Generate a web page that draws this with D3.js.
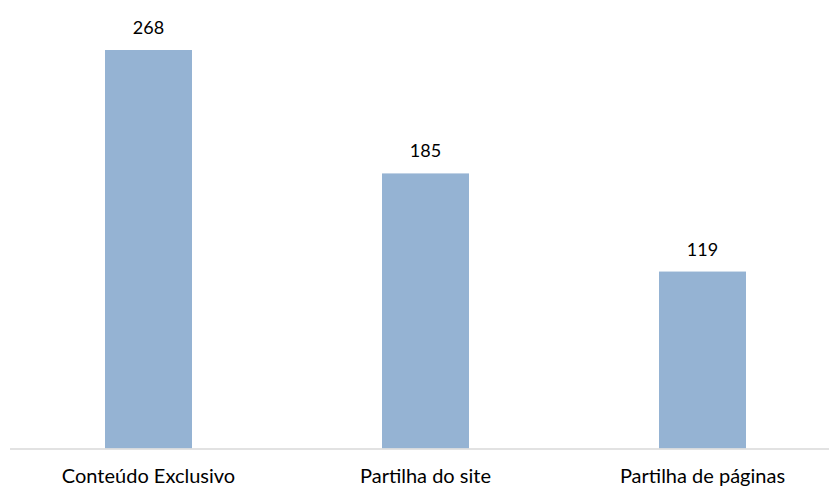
<!DOCTYPE html>
<html><head><meta charset="utf-8">
<script src="https://cdn.jsdelivr.net/npm/d3@7"></script>
<style>body{margin:0;background:#fff}svg{display:block}</style>
</head><body>
<svg id="c" width="829" height="487"></svg>
<script>
const categories = ["Conteúdo Exclusivo", "Partilha do site", "Partilha de páginas"];
const values = [268, 185, 119];

const svg = d3.select("#c");
const font = "Lato, 'Open Sans', sans-serif";
const x = d3.scaleBand().domain(categories).range([10, 841]).paddingInner(0.686).paddingOuter(0.343);
const y = d3.scaleLinear().domain([0, 268]).range([448.5, 50]);

svg.selectAll("rect.bar").data(values).join("rect")
  .attr("class", "bar")
  .attr("x", (d, i) => x(categories[i]))
  .attr("width", x.bandwidth())
  .attr("y", d => y(d))
  .attr("height", d => y(0) - y(d))
  .attr("fill", "#95B3D3");

svg.append("line").attr("x1", 10).attr("x2", 829).attr("y1", 449).attr("y2", 449)
  .attr("stroke", "#D9D9D9").attr("stroke-width", 1.5);

svg.selectAll("text.val").data(values).join("text")
  .attr("class", "val")
  .attr("x", (d, i) => x(categories[i]) + x.bandwidth() / 2)
  .attr("y", d => y(d) - 16)
  .attr("text-anchor", "middle")
  .attr("font-family", font).attr("font-size", 18).attr("fill", "#000")
  .text(d => d);

svg.selectAll("text.cat").data(categories).join("text")
  .attr("class", "cat")
  .attr("x", d => x(d) + x.bandwidth() / 2)
  .attr("y", 483)
  .attr("text-anchor", "middle")
  .attr("font-family", font).attr("font-size", 20).attr("fill", "#000")
  .text(d => d);
</script>
</body></html>
